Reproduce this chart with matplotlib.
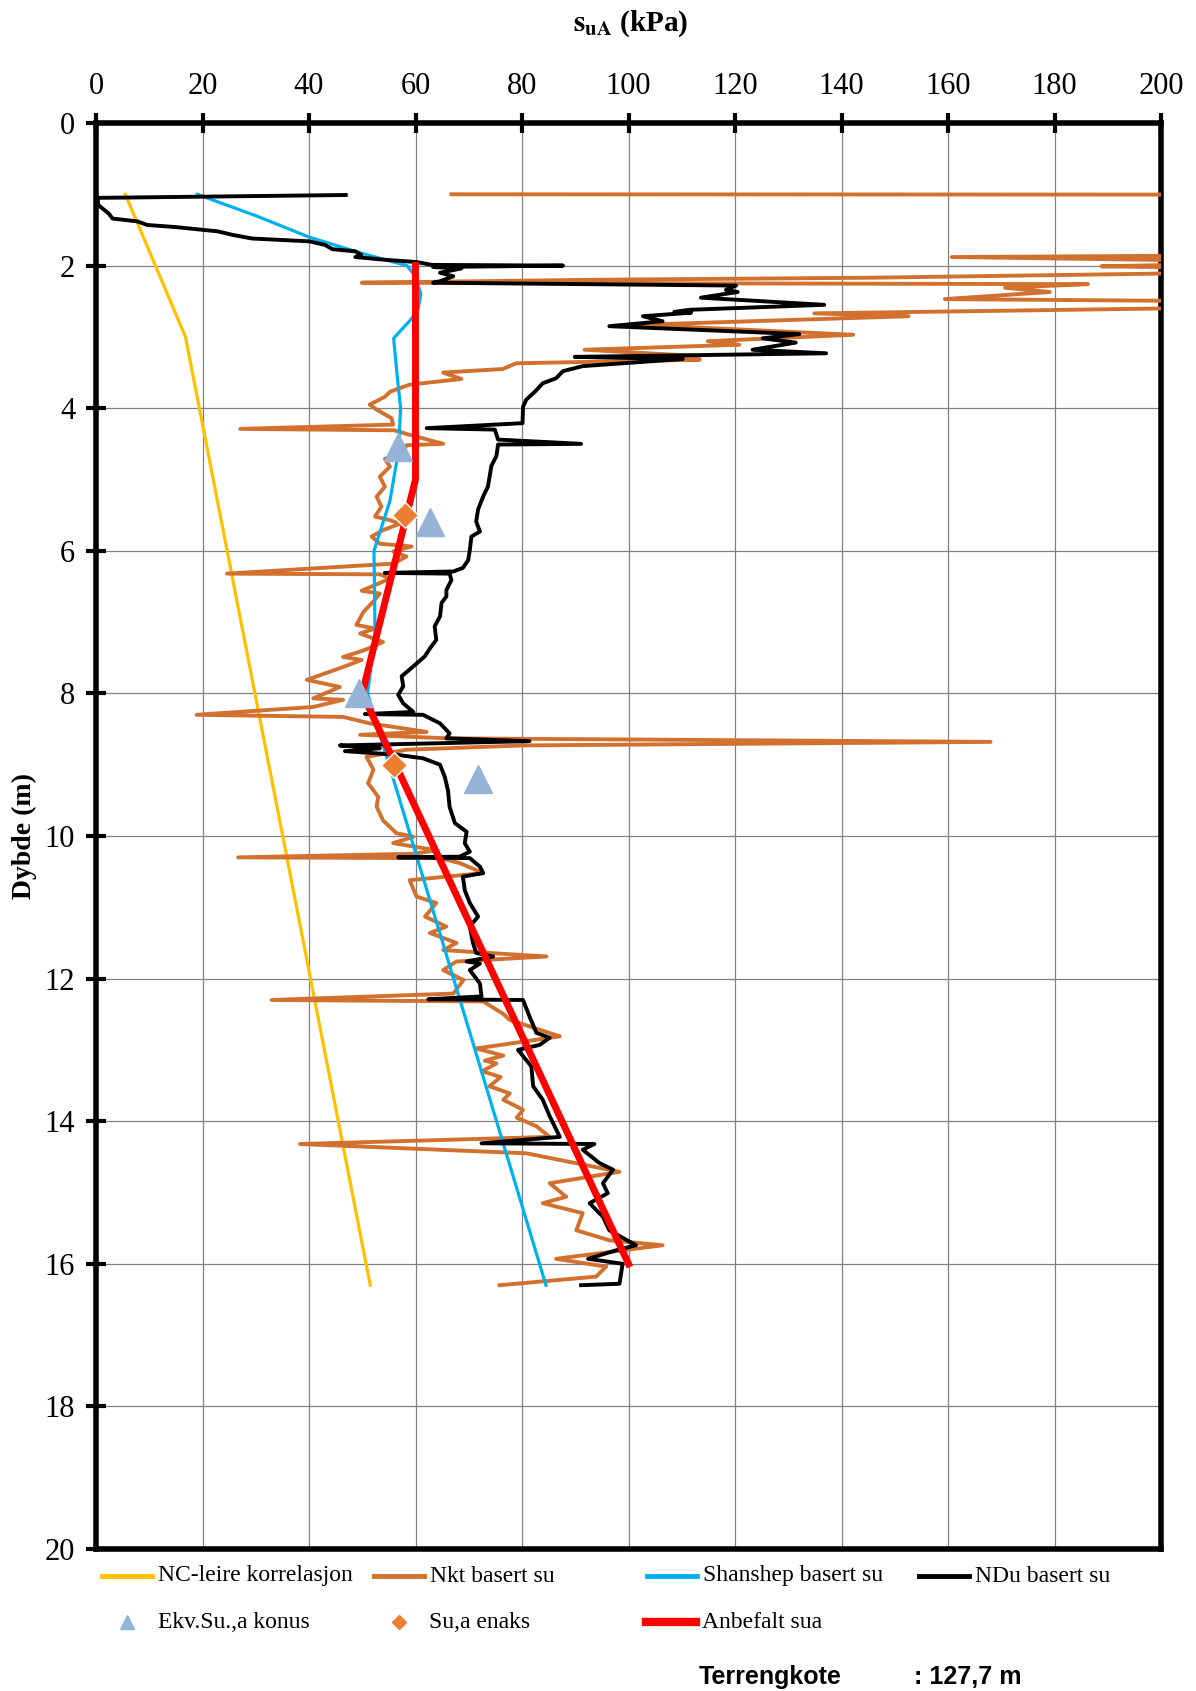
import matplotlib.pyplot as plt
from matplotlib.lines import Line2D

plt.rcParams['font.family'] = ['Liberation Serif', 'DejaVu Serif']
plt.rcParams['mathtext.fontset'] = 'stix'

# NC-leire korrelasjon
nc_su = [5.5, 16.8, 51.5]
nc_depth = [1.0, 3.0, 16.3]

# Shanshep basert su
shan_su = [19.0, 30.0, 40.0, 50.0, 58.4, 60.0, 61.0, 60.5, 59.2, 55.9, 56.5,
           57.2, 56.8, 55.2, 52.2, 52.3, 52.4, 51.0, 84.5]
shan_depth = [1.0, 1.3, 1.6, 1.83, 2.0, 2.15, 2.4, 2.6, 2.75, 3.02, 3.5,
              4.0, 4.6, 5.3, 6.0, 6.5, 7.15, 8.0, 16.3]

# Anbefalt sua
anb_su = [60, 60, 50, 100]
anb_depth = [2.0, 5.0, 8.0, 16.0]

# Ekv.Su.,a konus
konus_su = [56.8, 62.7, 49.3, 71.7]
konus_depth = [4.55, 5.6, 8.0, 9.2]

# Su,a enaks
enaks_su = [58.0, 56.0]
enaks_depth = [5.5, 9.0]

# NDu basert su
ndu_su = [46.9, 0.3, 0.4, 2.4, 3.1, 7.8, 9.6, 15.0, 22.9, 25.7, 29.3, 40.1, 43.0, 44.4,
          48.7, 49.8, 48.7, 50.2, 54.5, 60.2, 63.1, 87.7, 63.3, 68.6, 64.6, 67.1, 64.6,
          63.3, 120.2, 118.3, 120.5, 113.6, 136.75, 111.4, 108.6, 111.75, 102.7, 106.4,
          96.4, 132.1, 125.2, 131.4, 123.3, 137.1, 89.9, 110.2, 91.4, 87.7, 86.4, 83.9,
          82.4, 80.8, 80.2, 80.1, 62.1, 74.9, 75.5, 91.1, 75.5, 75.2, 74.25, 73.6, 72.7,
          71.75, 71.4, 72.1, 70.5, 70.2, 69.9, 68.9, 67.1, 54.25, 66.4, 66.75, 65.8, 65.8,
          64.9, 64.6, 63.6, 63.9, 62.7, 61.75, 59.6, 57.4, 57.7, 56.75, 57.7, 59.6, 50.5,
          61.4, 64.6, 66.4, 65.8, 81.4, 45.8, 53.3, 46.75, 56.4, 61.4, 64.6, 65.5, 66.1,
          66.4, 67.4, 69.6, 69.25, 70.2, 68.3, 56.75, 70.2, 72.1, 72.7, 68.9, 69.25, 70.2,
          71.75, 70.2, 70.8, 71.4, 74.6, 69.6, 72.1, 70.2, 72.1, 72.4, 62.4, 80.2, 81.4,
          82.7, 85.2, 83.3, 79.25, 81.75, 82.1, 83.9, 85.2, 87.1, 72.4, 93.6, 91.4, 94.6,
          97.1, 95.2, 96.1, 92.7, 95.2, 96.4, 101.4, 97.7, 92.4, 98.9, 98.3, 91.1]
ndu_depth = [1.01, 1.05, 1.15, 1.27, 1.34, 1.38, 1.43, 1.46, 1.52, 1.57, 1.62, 1.66, 1.71,
             1.77, 1.80, 1.85, 1.88, 1.89, 1.92, 1.95, 1.99, 2.0, 2.02, 2.04, 2.10, 2.15,
             2.22, 2.24, 2.28, 2.34, 2.37, 2.45, 2.55, 2.62, 2.65, 2.66, 2.71, 2.78, 2.85,
             2.96, 3.02, 3.08, 3.18, 3.23, 3.28, 3.31, 3.41, 3.48, 3.58, 3.65, 3.77, 3.88,
             3.98, 4.21, 4.28, 4.30, 4.44, 4.50, 4.51, 4.67, 4.81, 5.10, 5.24, 5.42, 5.59,
             5.73, 5.80, 5.99, 6.13, 6.24, 6.29, 6.31, 6.32, 6.41, 6.55, 6.64, 6.73, 6.92,
             7.06, 7.25, 7.37, 7.48, 7.62, 7.76, 7.90, 8.02, 8.14, 8.26, 8.29, 8.30, 8.42,
             8.56, 8.63, 8.67, 8.73, 8.77, 8.81, 8.86, 8.91, 9.0, 9.17, 9.36, 9.59, 9.82,
             9.94, 10.10, 10.22, 10.29, 10.30, 10.31, 10.43, 10.52, 10.57, 10.76, 10.94,
             11.13, 11.27, 11.50, 11.64, 11.69, 11.76, 11.79, 11.88, 12.07, 12.25, 12.29,
             12.30, 12.53, 12.76, 12.83, 12.93, 13.0, 13.23, 13.51, 13.70, 13.93, 14.22,
             14.31, 14.32, 14.40, 14.59, 14.68, 14.87, 15.01, 15.15, 15.34, 15.53, 15.74,
             15.81, 15.93, 16.0, 16.28, 16.30]

# Nkt basert su (values above 200 are cut by the axis)
nkt_su = [66.75, 230, 230, 160.7, 230, 188.8, 230, 230, 145.4, 92.0, 49.9, 186.3, 170.7,
          179.1, 159.4, 230, 230, 134.9, 152.6, 102.1, 142.2, 114.9, 120.8, 91.75, 113.4,
          100.2, 113.4, 78.9, 76.4, 65.2, 68.6, 58.9, 57.0, 55.2, 54.25, 51.4, 52.7, 55.5,
          55.8, 27.1, 56.0, 58.3, 65.2, 58.3, 57.7, 54.25, 55.2, 53.3, 54.25, 52.7, 53.6,
          52.4, 55.2, 57.1, 53.9, 51.75, 53.3, 59.25, 55.8, 58.3, 55.8, 24.6, 53.3, 55.2,
          49.9, 53.3, 52.1, 50.2, 48.9, 52.4, 49.6, 53.9, 50.5, 46.4, 49.9, 46.4, 39.6,
          45.8, 40.8, 46.4, 40.8, 18.9, 46.4, 51.4, 62.1, 49.6, 66.0, 168.0, 80.0, 58.3,
          50.8, 52.1, 51.1, 53.0, 52.7, 53.9, 56.4, 59.6, 55.8, 63.9, 59.6, 26.7, 64.6,
          68.3, 72.7, 58.9, 60.2, 63.9, 61.8, 65.8, 62.7, 67.7, 65.2, 84.6, 67.7, 65.2,
          69.0, 67.1, 33.0, 72.7, 76.4, 77.7, 87.1, 71.4, 76.5, 73.0, 75.2, 72.5, 76.0,
          73.9, 77.7, 76.5, 80.2, 79.0, 82.7, 85.2, 38.3, 80.8, 98.3, 85.2, 88.3, 83.9,
          91.4, 90.2, 96.4, 106.4, 86.4, 95.8, 93.9, 75.8]
nkt_depth = [1.0, 1.005, 1.85, 1.88, 1.95, 2.01, 2.05, 2.08, 2.17, 2.20, 2.24, 2.26, 2.31,
             2.37, 2.47, 2.51, 2.57, 2.67, 2.71, 2.83, 2.97, 3.06, 3.11, 3.18, 3.27, 3.30,
             3.32, 3.37, 3.45, 3.50, 3.59, 3.67, 3.72, 3.77, 3.84, 3.95, 4.02, 4.14, 4.23,
             4.29, 4.31, 4.36, 4.50, 4.52, 4.61, 4.71, 4.82, 4.96, 5.10, 5.24, 5.38, 5.52,
             5.57, 5.62, 5.71, 5.80, 5.90, 5.94, 6.01, 6.08, 6.18, 6.32, 6.33, 6.39, 6.56,
             6.60, 6.71, 6.86, 7.04, 7.09, 7.16, 7.28, 7.39, 7.49, 7.53, 7.63, 7.81, 7.91,
             8.07, 8.09, 8.19, 8.30, 8.33, 8.42, 8.54, 8.58, 8.63, 8.68, 8.73, 8.79, 8.89,
             9.07, 9.26, 9.45, 9.59, 9.78, 9.96, 10.01, 10.10, 10.20, 10.25, 10.30, 10.31,
             10.38, 10.52, 10.62, 10.85, 10.94, 11.13, 11.27, 11.36, 11.50, 11.60, 11.69,
             11.76, 11.88, 12.02, 12.21, 12.30, 12.32, 12.49, 12.58, 12.81, 12.98, 13.08,
             13.15, 13.19, 13.30, 13.38, 13.51, 13.61, 13.70, 13.84, 13.95, 14.07, 14.22,
             14.32, 14.45, 14.71, 14.87, 15.06, 15.15, 15.29, 15.53, 15.67, 15.74, 15.93,
             16.04, 16.18, 16.30]

c_nc = '#FFC000'
c_nkt = '#D2712F'
c_shan = '#00B0F0'
c_ndu = 'black'
c_anb = '#FF0000'
c_konus = '#95B3D7'
c_enaks = '#ED7D31'

W, H = 1196, 1691
fig = plt.figure(figsize=(W / 100, H / 100), dpi=100)
ax = fig.add_axes([96 / W, 1 - 1549 / H, (1161 - 96) / W, (1549 - 123) / H])

ax.plot(nc_su, nc_depth, color=c_nc, lw=2.3, zorder=3)
ax.plot(nkt_su, nkt_depth, color=c_nkt, lw=2.8, zorder=4)
ax.plot(shan_su, shan_depth, color=c_shan, lw=2.3, zorder=5)
ax.plot(ndu_su, ndu_depth, color=c_ndu, lw=2.8, zorder=6)
ax.plot(anb_su, anb_depth, color=c_anb, lw=5, zorder=7)
ax.plot(konus_su, konus_depth, ls='none', marker='^', ms=20, color=c_konus, zorder=8)
ax.plot(enaks_su, enaks_depth, ls='none', marker='D', ms=13, color=c_enaks,
        mec='white', mew=1, zorder=9)

ax.set_xlim(0, 200)
ax.set_ylim(20, 0)
ax.set_xticks(range(0, 201, 20))
ax.set_yticks(range(0, 21, 2))
ax.xaxis.tick_top()
ax.grid(True, color='#808080', lw=0.9)
ax.set_axisbelow(True)
for s in ax.spines.values():
    s.set_linewidth(4)
ax.tick_params(axis='both', which='major', labelsize=22, direction='inout',
               length=14, width=3)
ax.tick_params(axis='x', pad=9)
ax.tick_params(axis='y', pad=8)

fig.text(631 / W, 1 - 24 / H, r'$\mathbf{s_{uA}}$ (kPa)', ha='center', va='center',
         fontsize=21, fontweight='bold')
fig.text(24 / W, 1 - 836 / H, 'Dybde (m)', ha='center', va='center', rotation=90,
         fontsize=20, fontweight='bold')


def legend_line(x0, y, label, **style):
    fig.add_artist(Line2D([x0 / W, (x0 + 50) / W], [1 - y / H, 1 - y / H],
                          transform=fig.transFigure, **style))
    fig.text((x0 + 56) / W, 1 - y / H, label, ha='left', va='center', fontsize=17)


def legend_marker(xc, xt, y, label, **style):
    fig.add_artist(Line2D([xc / W], [1 - y / H], transform=fig.transFigure,
                          ls='none', **style))
    fig.text(xt / W, 1 - y / H, label, ha='left', va='center', fontsize=17)


legend_line(102, 1576, 'NC-leire korrelasjon', color=c_nc, lw=3.5)
legend_line(374, 1576, 'Nkt basert su', color=c_nkt, lw=3.5)
legend_line(647, 1576, 'Shanshep basert su', color=c_shan, lw=3.5)
legend_line(919, 1576, 'NDu basert su', color=c_ndu, lw=3.5)
legend_marker(127, 158, 1622, 'Ekv.Su.,a konus', marker='^', ms=10, color=c_konus)
legend_marker(399, 429, 1622, 'Su,a enaks', marker='D', ms=7, color=c_enaks)
legend_line(646, 1622, 'Anbefalt sua', color=c_anb, lw=6)

fig.text(699 / W, 1 - 1677 / H, 'Terrengkote', ha='left', va='center', fontsize=18,
         fontweight='bold', family='Liberation Sans')
fig.text(914 / W, 1 - 1677 / H, ': 127,7 m', ha='left', va='center', fontsize=18,
         fontweight='bold', family='Liberation Sans')

fig.savefig('out.png', dpi=100)
